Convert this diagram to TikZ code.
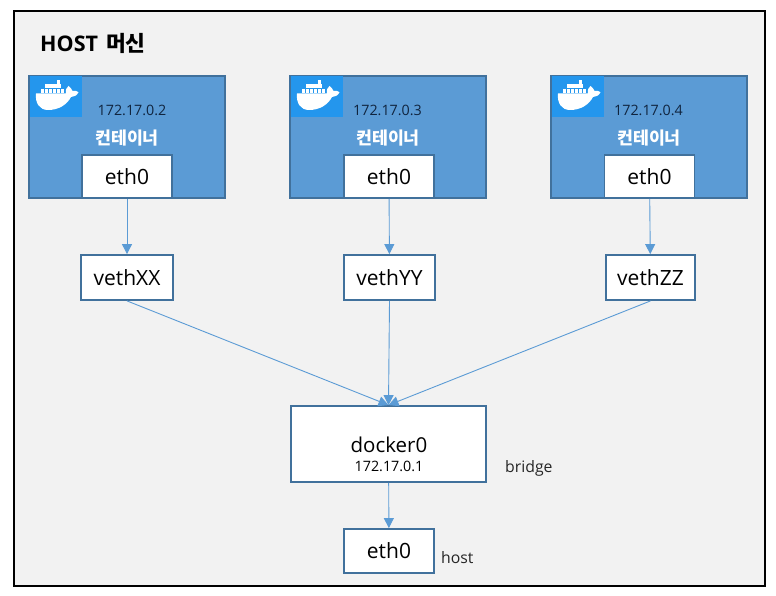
\documentclass[tikz,border=0pt]{standalone}
\usepackage{fontspec}
\setmainfont{Open Sans}
\newfontfamily\krfont{Noto Sans CJK KR}
\definecolor{panel}{HTML}{F2F2F2}
\definecolor{cfill}{HTML}{5B9BD5}
\definecolor{cline}{HTML}{41719C}
\definecolor{dockblue}{HTML}{2496ED}
\definecolor{ipdark}{HTML}{10243E}
\usetikzlibrary{arrows.meta}
\tikzset{
  ctr/.style={draw=cline,line width=1.5pt,fill=cfill,minimum width=196pt,minimum height=122pt,inner sep=0pt},
  whitebox/.style={draw=cline,line width=1.8pt,fill=white,inner sep=0pt,font=\fontsize{21}{23}\selectfont,text=black},
  dbg/.style={fill=dockblue,minimum width=52pt,minimum height=41pt,inner sep=0pt},
  conn/.style={draw=cfill,line width=0.9pt,-{Triangle[length=10pt,width=10pt]}},
  iptext/.style={inner sep=0pt,font=\fontsize{14.3}{16}\selectfont},
  ctitle/.style={inner sep=0pt,text=white,font=\krfont\bfseries\fontsize{17.3}{20}\selectfont},
  side/.style={inner sep=0pt,anchor=base west,text=black!85,font=\fontsize{15.8}{18}\selectfont},
  pics/dockwhale/.style={code={
    \fill[white] (6,17.5) -- (36,17.5) .. controls (35.2,14) and (36.5,11.5) .. (38.5,10)
      .. controls (40.5,11.5) and (42,13.5) .. (42.5,15) .. controls (44.5,14.4) and (47,14.8) .. (48.5,16.2)
      .. controls (47,19.5) and (44,21) .. (41,21) .. controls (37,28.5) and (29,34) .. (18,34)
      .. controls (9.5,34) and (5,27) .. (6,17.5) -- cycle;
    \foreach \x in {10.5,14.5,18.5,22.5,26.5,30.5} \fill[white] (\x,12.6) rectangle ++(3.5,4);
    \foreach \x in {15,19,23,27} \fill[white] (\x,8.2) rectangle ++(3.5,3.8);
    \fill[white] (26.8,3.8) rectangle ++(3.5,3.8);
  }}
}
\begin{document}
\begin{tikzpicture}[x=1pt,y=-1pt]
\useasboundingbox (0,0) rectangle (776,596);
\fill[white] (0,0) rectangle (776,596);
\draw[black,line width=2pt,fill=panel] (13.5,11.5) rectangle (764.5,585.5);
\node[anchor=base west,inner sep=0pt,font=\bfseries\fontsize{21.5}{23}\selectfont] (title) at (40,52) {HOST\hspace{8pt}{\krfont 머신}};

% containers
\node[ctr] (c1) at (127,137) {};
\node[ctr] (c2) at (388,137) {};
\node[ctr] (c3) at (649,137) {};
\node[dbg] (d1) at (56,96.5) {};
\node[dbg] (d2) at (317,96.5) {};
\node[dbg] (d3) at (578,96.5) {};
\pic at (30,76) {dockwhale};
\pic at (291,76) {dockwhale};
\pic at (552,76) {dockwhale};
\node[iptext,text=ipdark] (ip1) at (132,110) {172.17.0.2};
\node[iptext,text=ipdark] (ip2) at (387.5,110) {172.17.0.3};
\node[iptext,text=ipdark] (ip3) at (648.5,110) {172.17.0.4};
\node[ctitle] (t1) at (127,138) {컨테이너};
\node[ctitle] (t2) at (388,138) {컨테이너};
\node[ctitle] (t3) at (649,138) {컨테이너};
\node[whitebox,minimum width=90pt,minimum height=43pt] (e1) at (127,176.5) {eth0};
\node[whitebox,minimum width=90pt,minimum height=43pt] (e2) at (389,176.5) {eth0};
\node[whitebox,minimum width=90pt,minimum height=43pt] (e3) at (649.5,176.5) {eth0};

% veth
\node[whitebox,minimum width=92pt,minimum height=45pt] (v1) at (127,277.5) {vethXX};
\node[whitebox,minimum width=91pt,minimum height=45pt] (v2) at (389.5,277.5) {vethYY};
\node[whitebox,minimum width=89pt,minimum height=45pt] (v3) at (650.5,277.5) {vethZZ};

% bridge
\node[draw=cline,line width=1.8pt,fill=white,minimum width=195pt,minimum height=76pt,inner sep=0pt] (br) at (388.5,444) {};
\node[inner sep=0pt,font=\fontsize{20.5}{22}\selectfont] (brname) at (389,445) {docker0};
\node[iptext] (brip) at (389,466) {172.17.0.1};
\node[side] (brlab) at (505,472) {bridge};
\node[whitebox,minimum width=90pt,minimum height=44pt] (h) at (389,551) {eth0};
\node[side] (hlab) at (441,563) {host};

% connectors
\draw[conn] (e1) -- (v1);
\draw[conn] (e2) -- (v2);
\draw[conn] (e3) -- (v3);
\draw[conn] (v1.south) -- (br.north);
\draw[conn] (v2.south) -- (br.north);
\draw[conn] (v3.south) -- (br.north);
\draw[conn] (br) -- (h);
\end{tikzpicture}
\end{document}
